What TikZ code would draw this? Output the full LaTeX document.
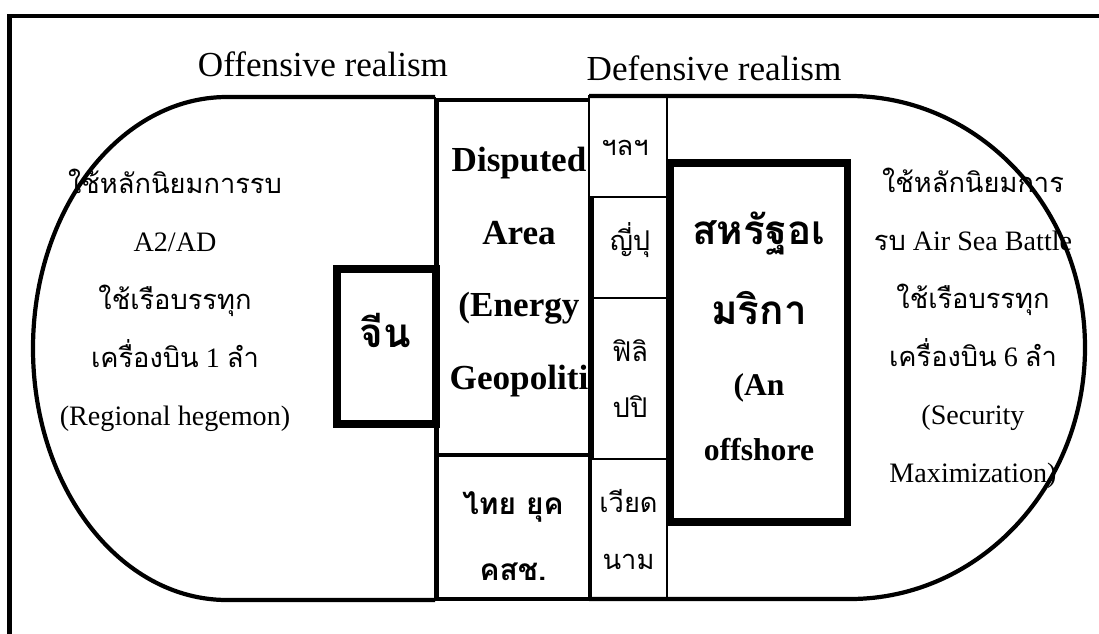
\documentclass[tikz,border=0pt]{standalone}
\usepackage{fontspec}
\setmainfont{Liberation Serif}
\newfontfamily\thai[Script=Thai]{Loma}
\usetikzlibrary{positioning}
\tikzset{
  heavybox/.style={draw,line width=4.3pt,fill=white,inner sep=0pt},
  wallbox/.style={draw,line width=2.4pt,fill=white,inner sep=0pt},
  cellbox/.style={draw,line width=0.6pt,fill=white,inner sep=0pt},
  rim/.style={line width=2.4pt},
  seam/.style={line width=0.6pt},
  headtxt/.style={font=\fontsize{20}{24}\selectfont,anchor=base,inner sep=0pt},
  sidetxt/.style={font=\fontsize{16}{33}\selectfont,align=center,inner sep=0pt},
  boldtxt/.style={font=\fontsize{20}{41.5}\selectfont\bfseries,align=center,inner sep=0pt},
  celltxt/.style={font=\fontsize{15.5}{32}\selectfont\thai,align=center,inner sep=0pt},
}
\begin{document}
\begin{tikzpicture}[x=0.02cm,y=-0.02cm]
  \clip (0,0) rectangle (1099,633);
  % outer frame
  \draw[line width=2.6pt] (9.5,16) rectangle (1130,660);
  % middle column boxes
  \node[cellbox,minimum width=1.54cm,minimum height=2.82cm] (viet) at (628.5,529.5) {};
  \node[wallbox,minimum width=3.06cm,minimum height=7.1cm] (disp) at (513.5,277.5) {};
  \node[wallbox,minimum width=3.06cm,minimum height=2.88cm] (thai) at (513.5,527) {};
  \node[cellbox,minimum width=1.56cm,minimum height=2.02cm] (etc) at (628,146.5) {};
  \node[cellbox,minimum width=1.48cm,minimum height=2.02cm] (japan) at (630,247.5) {};
  \node[cellbox,minimum width=1.48cm,minimum height=3.22cm] (phil) at (630,378.5) {};
  % the two halves
  \draw[rim] (435,97) -- (227,97)
    arc[start angle=-90,end angle=-270,x radius=194,y radius=251.5] -- (435,600);
  \draw[seam] (435,97) -- (435,600);
  \draw[rim] (589,96) -- (850,96)
    arc[start angle=-90,end angle=90,x radius=235,y radius=251.5] -- (589,599);
  % powers
  \node[heavybox,minimum width=1.98cm,minimum height=3.1cm] (china) at (386.5,346.5) {};
  \node[heavybox,minimum width=3.54cm,minimum height=7.18cm] (usa) at (759,342.5) {};
  % texts
  \node[headtxt] (offtitle) at (323,76) {Offensive realism};
  \node[headtxt] (deftitle) at (714,80) {Defensive realism};
  \node[sidetxt] (offtxt) at (175,300) {{\thai\fontsize{15.5}{33}\selectfont ใช้หลักนิยมการรบ}\\A2/AD\\{\thai\fontsize{15.5}{33}\selectfont ใช้เรือบรรทุก}\\{\thai\fontsize{15.5}{33}\selectfont เครื่องบิน} 1 {\thai\fontsize{15.5}{33}\selectfont ลำ}\\(Regional hegemon)};
  \node[sidetxt] (deftxt) at (973,328) {{\thai\fontsize{15.5}{33}\selectfont ใช้หลักนิยมการ}\\{\thai\fontsize{15.5}{33}\selectfont รบ} Air Sea Battle\\{\thai\fontsize{15.5}{33}\selectfont ใช้เรือบรรทุก}\\{\thai\fontsize{15.5}{33}\selectfont เครื่องบิน} 6 {\thai\fontsize{15.5}{33}\selectfont ลำ}\\(Security\\Maximization)};
  \node[boldtxt] (disptxt) at (519,272) {Disputed\\Area\\(Energy\\Geopoliti};
  \node[boldtxt,font=\fontsize{17}{37.5}\selectfont\bfseries\thai] (thaitxt) at (513,536) {ไทย ยุค\\คสช.};
  \node[celltxt] (etctxt) at (625,148) {ฯลฯ};
  \node[celltxt] (japantxt) at (630,240) {ญี่ปุ};
  \node[celltxt] (philtxt) at (phil) {ฟิลิ\\ปปิ};
  \node[celltxt] (viettxt) at (viet) {เวียด\\นาม};
  \node[boldtxt,font=\fontsize{23}{28}\selectfont\bfseries\thai] (chinatxt) at (385,330) {จีน};
  \node[boldtxt,font=\fontsize{23}{45.5}\selectfont\bfseries\thai] (usath) at (759,268) {สหรัฐอเ\\มริกา};
  \node[boldtxt,font=\fontsize{18}{37}\selectfont\bfseries] (usaen) at (759,417) {(An\\offshore};
\end{tikzpicture}
\end{document}
